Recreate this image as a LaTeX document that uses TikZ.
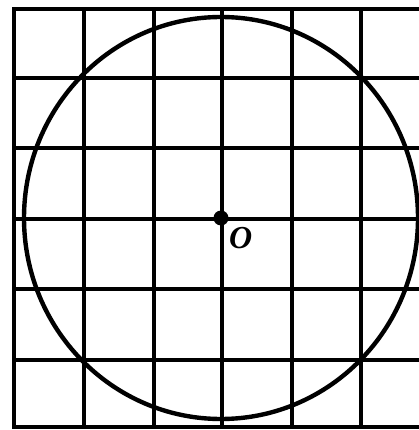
\documentclass[tikz,border=0pt]{standalone}
\usepackage{fontspec}
\setmainfont{Liberation Serif}
\begin{document}
\begin{tikzpicture}[x=1pt,y=-1pt,
  gridline/.style={line width=3.4pt,black},
  circ/.style={line width=4.4pt,black},
  lbl/.style={inner sep=0pt}]
\useasboundingbox (0,0) rectangle (419,430);
% vertical lines
\foreach \x in {14,84,154,222,292,361}{
  \draw[gridline] (\x,9) -- (\x,427);
}
% horizontal lines
\foreach \y in {9,78,148,219,289,360,427}{
  \draw[gridline] (12.3,\y) -- (419,\y);
}
% circle
\coordinate (O) at (221,218);
\draw[circ] (O) circle[x radius=197pt, y radius=201pt];
% centre dot and label
\node[circle,fill=black,minimum size=15pt,inner sep=0pt] (dot) at (O) {};
\node[lbl,anchor=north west] (lab) at (229,227) {\fontsize{32}{32}\selectfont\textbf{\textit{O}}};
\end{tikzpicture}
\end{document}
